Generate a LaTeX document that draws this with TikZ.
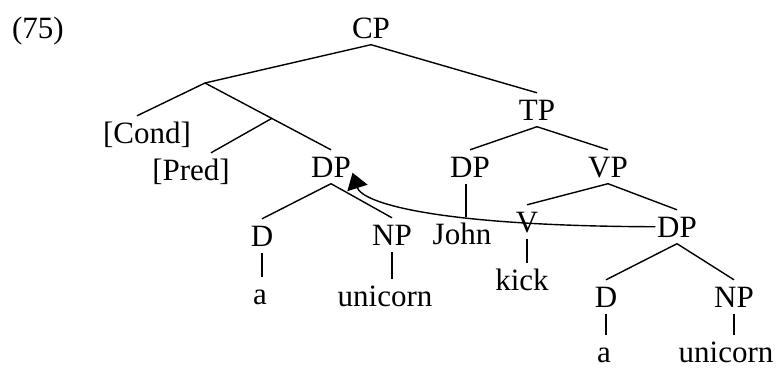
\documentclass[tikz,border=0pt]{standalone}
\usepackage{fontspec}
\setmainfont{Liberation Serif}
\usepackage{tikz}
\usetikzlibrary{arrows.meta}
\usetikzlibrary{calc}

\begin{document}
\begin{tikzpicture}[x=1pt, y=-1pt, line width=1.4pt,
                catnode/.style={anchor=base, inner xsep=1pt, inner ysep=6pt, text height=20.5pt, text depth=0pt, font=\fontsize{31}{37}\selectfont},
                wordnode/.style={catnode, inner ysep=3pt},
                movearrow/.style={-{Triangle[length=16pt, width=21pt]}},
            ]
            \useasboundingbox (0,0) rectangle (778,369);

            % Nodes
            \node[catnode]      (num)           at (38,38)      {(75)};
            \node[catnode]      (cp)            at (371,38)     {CP};

            \coordinate         (cp_left)       at (205,83);
            \node[catnode]      (cond)          at (147,143)    {[Cond]};
            \node[catnode]      (pred)          at (191,180)    {[Pred]};
            \node[catnode]      (dp_subj)       at (331,177)    {DP};
            \coordinate         (pred_branch)   at ($(cp_left)!0.53!(dp_subj.north)$);
            \node[catnode]      (d_subj)        at (262,246)    {D};
            \node[catnode]      (np_subj)       at (392,245)    {NP};
            \node[wordnode]     (a_subj)        at (260,304)    {a};
            \node[wordnode]     (unicorn_subj)  at (385,306)    {unicorn};

            \node[catnode]      (tp)            at (537,120)    {TP};
            \node[catnode]      (dp_john)       at (470,177)    {DP};
            \node[wordnode]     (john)          at (462,244)    {John};
            \node[catnode]      (vp)            at (608,177)    {VP};
            \node[catnode]      (v)             at (527,232)    {V};
            \node[wordnode]     (kick)          at (522,290)    {kick};
            \node[catnode]      (dp_obj)        at (677,237)    {DP};
            \node[catnode]      (d_obj)         at (606,307)    {D};
            \node[catnode]      (np_obj)        at (734,307)    {NP};
            \node[wordnode]     (a_obj)         at (604,362)    {a};
            \node[wordnode]     (unicorn_obj)   at (726,362)    {unicorn};

            %Lines
            \draw (cp.south) -- (cp_left);
            \draw (cp.south) -- (tp.north);

            \draw (cp_left) -- ([xshift=-10pt]cond.north);
            \draw (cp_left) -- (dp_subj.north);
            \draw (pred_branch) -- ([xshift=20pt]pred.north);

            \draw (dp_subj.south) -- (d_subj.north);
            \draw (dp_subj.south) -- (np_subj.north);
            \draw (d_subj.south) -- ([yshift=3pt]d_subj.south |- a_subj.north);
            \draw (np_subj.south) -- ([yshift=3pt]np_subj.south |- unicorn_subj.north);

            \draw (tp.south) -- (dp_john.north);
            \draw (tp.south) -- (vp.north);
            \draw ([xshift=-4pt]dp_john.south) -- ([xshift=-4pt, yshift=3pt]dp_john.south |- john.north);

            \draw (vp.south) -- (v.north);
            \draw (vp.south) -- (dp_obj.north);
            \draw (v.south) -- ([yshift=3pt]v.south |- kick.north);

            \draw (dp_obj.south) -- (d_obj.north);
            \draw (dp_obj.south) -- (np_obj.north);
            \draw (d_obj.south) -- ([yshift=3pt]d_obj.south |- a_obj.north);
            \draw (np_obj.south) -- ([yshift=3pt]np_obj.south |- unicorn_obj.north);

            %Movement
            \draw[movearrow] (dp_obj.west) .. controls (430,226) and (362,202) .. ([yshift=-6pt]dp_subj.east);
        \end{tikzpicture}
\end{document}
